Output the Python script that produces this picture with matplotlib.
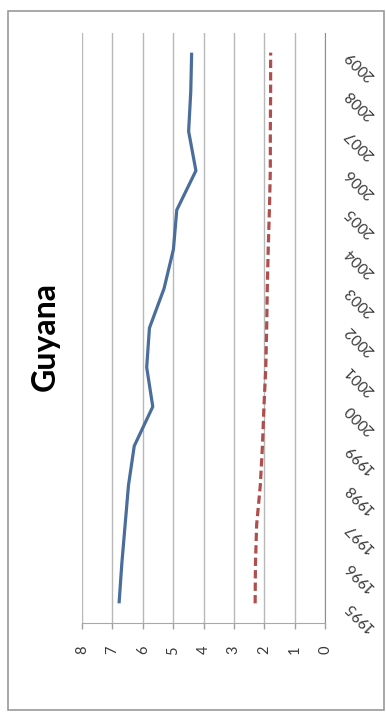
import matplotlib
matplotlib.use("Agg")
import matplotlib.pyplot as plt
from matplotlib.patches import Rectangle
from matplotlib.transforms import blended_transform_factory, offset_copy

plt.rcParams['font.family'] = ['Lato', 'DejaVu Sans']

years = ["1995", "1996", "1997", "1998", "1999", "2000", "2001", "2002",
         "2003", "2004", "2005", "2006", "2007", "2008", "2009"]
series_a = [6.78, 6.69, 6.58, 6.47, 6.28, 5.67, 5.87, 5.78,
            5.30, 4.99, 4.88, 4.25, 4.49, 4.42, 4.39]
series_b = [2.30, 2.29, 2.25, 2.13, 2.06, 2.01, 1.95, 1.92,
            1.90, 1.87, 1.83, 1.80, 1.80, 1.79, 1.79]
value_ticks = [0, 1, 2, 3, 4, 5, 6, 7, 8]
title = "Guyana"

W, H = 386, 712
fig = plt.figure(figsize=(W / 100, H / 100), dpi=100)
fig.patch.set_facecolor("white")

# outer chart frame
fig.add_artist(Rectangle((8 / W, 1 - 710 / H), (384 - 8) / W, (710 - 11) / H,
                         transform=fig.transFigure, fill=False,
                         edgecolor="#9a9a9a", linewidth=1.2))

# plot area (value axis runs horizontally, categories vertically)
left, right, top, bottom = 82, 325, 33, 623
ax = fig.add_axes([left / W, 1 - bottom / H, (right - left) / W, (bottom - top) / H])

pos = list(range(len(years)))
ax.plot(series_a, pos, color="#4a6d9b", linewidth=2.3, solid_capstyle="butt",
        solid_joinstyle="round", zorder=3)
ax.plot(series_b, pos, color="#b04e4d", linewidth=2.3, dashes=(2.6, 1.3), zorder=3)

ax.set_xlim(8, 0)
ax.set_ylim(-0.5, len(years) - 0.5)

ax.set_xticks(value_ticks)
ax.set_xticklabels([str(v) for v in value_ticks], rotation=90, color="#3a3a3a", fontsize=10.5)
ax.tick_params(axis="x", length=4, width=1, color="#a0a0a0", pad=12.5)
ax.grid(axis="x", color="#b8b8b8", linewidth=1)
ax.set_axisbelow(True)

# category labels on the right, slanted
ax.set_yticks(pos)
ax.set_yticklabels([])
ax.tick_params(axis="y", length=0, left=False, right=False)
trans = offset_copy(blended_transform_factory(ax.transAxes, ax.transData),
                    fig=fig, x=22, y=0, units="dots")
for p, label in zip(pos, years):
    ax.text(1.0, p, label, transform=trans, rotation=135, rotation_mode="anchor",
            ha="right", va="center", fontsize=11, color="#3a3a3a", clip_on=False)

for side in ("top", "left"):
    ax.spines[side].set_visible(False)
ax.spines["bottom"].set_color("#a8a8a8")
ax.spines["right"].set_color("#909090")

fig.text(45 / W, 1 - 336 / H, title, rotation=90, ha="center", va="center",
         fontsize=23, fontweight="bold", color="black")

fig.savefig("out.png", dpi=100)
